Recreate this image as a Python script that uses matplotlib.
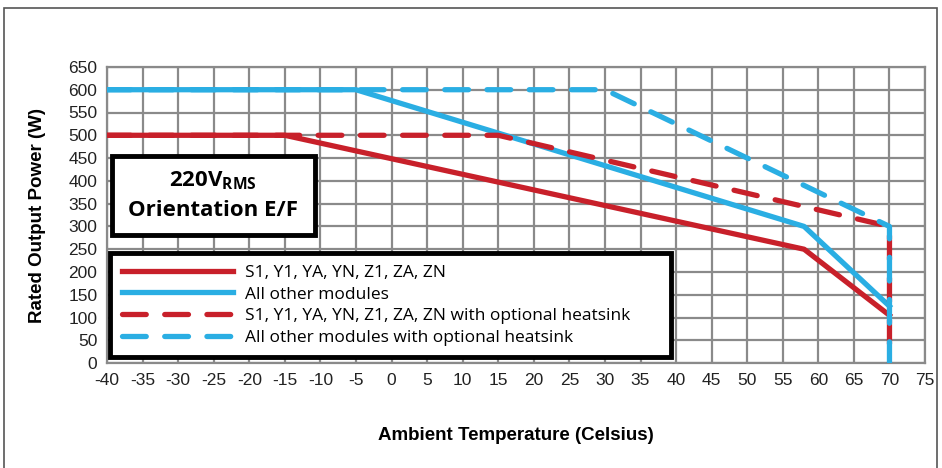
import matplotlib
matplotlib.use('Agg')
from matplotlib import pyplot as plt
from matplotlib.patches import Rectangle

# ambient temperature (C) vs rated power (W)
temp_red = [-40, -15, 58, 70]
power_red = [500, 500, 250, 105]
temp_blue = [-40, -5, 58, 70]
power_blue = [600, 600, 300, 125]
temp_red_hs = [-40, 15, 70, 70]
power_red_hs = [500, 500, 300, 0]
temp_blue_hs = [-40, 30, 70, 70]
power_blue_hs = [600, 600, 300, 0]

labels = ['S1, Y1, YA, YN, Z1, ZA, ZN',
          'All other modules',
          'S1, Y1, YA, YN, Z1, ZA, ZN with optional heatsink',
          'All other modules with optional heatsink']

x_ticks = list(range(-40, 76, 5))
y_ticks = list(range(0, 651, 50))

red = '#c8202a'
blue = '#2aaee3'

plt.rcParams['mathtext.fontset'] = 'custom'
plt.rcParams['mathtext.bf'] = 'Open Sans:bold'
plt.rcParams['mathtext.rm'] = 'Open Sans:bold'

fig = plt.figure(figsize=(9.42, 4.68), dpi=100)
fig.patches.append(Rectangle((0.004, -0.1), 0.991, 1.083, transform=fig.transFigure,
                             fill=False, edgecolor='#555555', linewidth=1.2))
ax = fig.add_axes([0.1136, 0.224, 0.8684, 0.633])

lw = 3.8
ax.plot(temp_red, power_red, color=red, lw=lw, label=labels[0], zorder=3)
ax.plot(temp_blue, power_blue, color=blue, lw=lw, label=labels[1], zorder=3)
ax.plot(temp_red_hs, power_red_hs, color=red, lw=lw, dashes=(4.5, 3.5),
        dash_capstyle='round', label=labels[2], zorder=3)
ax.plot(temp_blue_hs, power_blue_hs, color=blue, lw=lw, dashes=(4.5, 3.5),
        dash_capstyle='round', label=labels[3], zorder=4)

ax.set_xlim(-40, 75)
ax.set_ylim(0, 650)
ax.set_xticks(x_ticks)
ax.set_yticks(y_ticks)
ax.set_xticklabels([str(t) for t in x_ticks], family='Liberation Sans', fontsize=12.5, color='#222222')
ax.set_yticklabels([str(t) for t in y_ticks], family='Liberation Sans', fontsize=12.5, color='#222222')
ax.tick_params(length=0, pad=7)
ax.grid(True, color='#8a8a8a', linewidth=1.6)
ax.set_axisbelow(True)
for s in ax.spines.values():
    s.set_color('#8a8a8a')
    s.set_linewidth(1.6)

ax.set_xlabel('Ambient Temperature (Celsius)', family='Liberation Sans', fontweight='bold',
              fontsize=13.5, labelpad=28)
ax.set_ylabel('Rated Output Power (W)', family='Liberation Sans', fontweight='bold',
              fontsize=13.5, labelpad=16)

# condition box
ax.add_patch(Rectangle((0.006, 0.432), 0.248, 0.268, transform=ax.transAxes,
                       facecolor='white', edgecolor='black', linewidth=3.5, zorder=5))
ax.text(0.13, 0.615, r'220V$_{\mathbf{RMS}}$', transform=ax.transAxes, ha='center', va='center',
        family='Open Sans', fontweight='bold', fontsize=16, zorder=6)
ax.text(0.13, 0.515, 'Orientation E/F', transform=ax.transAxes, ha='center', va='center',
        family='Open Sans', fontweight='bold', fontsize=16, zorder=6)

leg = ax.legend(loc='lower left', bbox_to_anchor=(0.004, 0.02, 0.686, 0.365), mode='expand',
                prop={'family': 'Open Sans', 'size': 12.5}, handlelength=6.4, handletextpad=0.7,
                labelspacing=0.32, borderpad=0.65, borderaxespad=0, fancybox=False, framealpha=1)
leg.get_frame().set_edgecolor('black')
leg.get_frame().set_linewidth(3.5)
leg.set_zorder(6)

fig.savefig('out.png', dpi=100)
